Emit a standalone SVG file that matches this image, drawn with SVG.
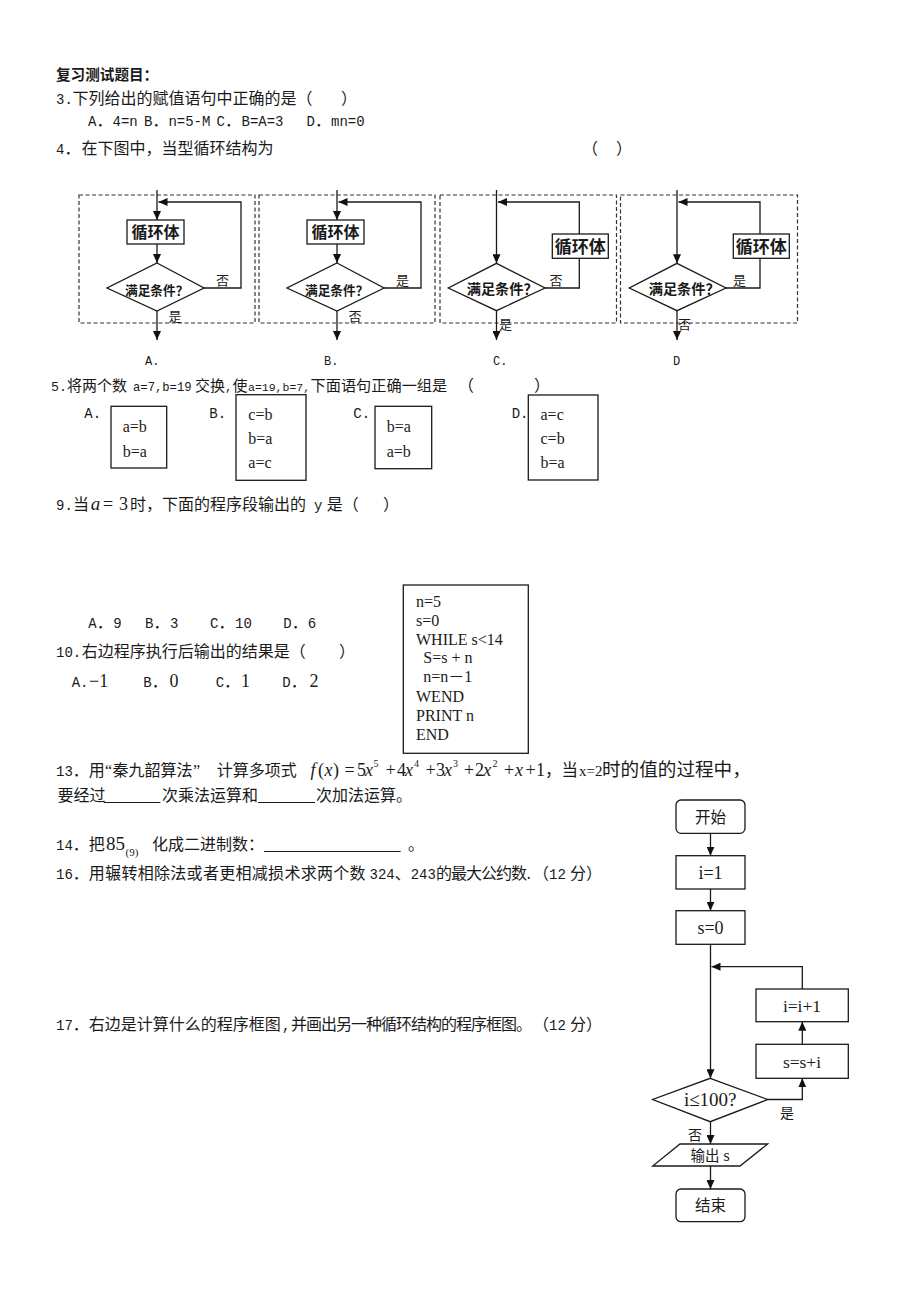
<svg xmlns="http://www.w3.org/2000/svg" width="920" height="1302" viewBox="0 0 920 1302">
<defs>
<marker id="ah" markerUnits="userSpaceOnUse" markerWidth="9" markerHeight="8" refX="9" refY="4" orient="auto"><path d="M0,0 L9,4 L0,8 z" fill="#111"/></marker>
<style>
.cn{font-family:"Noto Sans CJK SC",sans-serif;font-size:16px;fill:#1a1a1a}
.m{font-family:"Liberation Mono","Noto Sans CJK SC",monospace;font-size:14px;fill:#1a1a1a}
.sf{font-family:"Liberation Serif","Noto Sans CJK SC",serif;font-size:16px;fill:#1a1a1a}
.it{font-style:italic}
.ln{fill:none;stroke:#1a1a1a;stroke-width:1.3}
.dash{fill:none;stroke:#333;stroke-width:1.2;stroke-dasharray:4 2.5}
.box{fill:#fff;stroke:#1a1a1a;stroke-width:1.3}
.lbl{font-family:"Noto Sans CJK SC",sans-serif;font-size:13px;fill:#1a1a1a}
.bd{font-family:"Noto Sans CJK SC",sans-serif;font-weight:bold;fill:#1a1a1a}
.mid{text-anchor:middle}
</style>
</defs>
<rect width="920" height="1302" fill="#fff"/>

<g id="q3">
<text x="56" y="80" class="bd" style="font-size:14.6px">复习测试题目：</text>
<text y="104"><tspan class="m" x="56">3.</tspan><tspan class="cn" x="72.5">下列给出的赋值语句中正确的是（</tspan><tspan class="cn" x="341">）</tspan></text>
<text y="126"><tspan class="m" x="88">A</tspan><tspan class="cn" x="96.4">．</tspan><tspan class="m" x="112.5">4=n</tspan><tspan class="m" x="144">B</tspan><tspan class="cn" x="152.4">．</tspan><tspan class="m" x="168.4">n=5-M</tspan><tspan class="m" x="216.5">C</tspan><tspan class="cn" x="224.9">．</tspan><tspan class="m" x="241.5">B=A=3</tspan><tspan class="m" x="306.5">D</tspan><tspan class="cn" x="314.9">．</tspan><tspan class="m" x="331">mn=0</tspan></text>
</g>

<g id="q4">
<text y="153.5"><tspan class="m" x="56">4</tspan><tspan class="cn" x="64.4">．</tspan><tspan class="cn" x="81.5">在下图中，当型循环结构为</tspan><tspan class="cn" x="582">（</tspan><tspan class="cn" x="616">）</tspan></text>
</g>

<g id="fcA">
<rect class="dash" x="79" y="195" width="176" height="128"/>
<rect class="box" x="127" y="220" width="57" height="24"/>
<text class="bd mid" x="155.5" y="237.5" style="font-size:16px">循环体</text>
<polygon class="box" points="157,263 204,288 157,311 107,288"/>
<text class="bd" x="125" y="294.5" style="font-size:12.7px">满足条件？</text>
<text class="lbl mid" x="222.5" y="284.5">否</text>
<text class="lbl mid" x="175" y="321">是</text>
<text class="m" x="145" y="365" style="font-size:12px">A.</text>
</g>
<g id="fcB">
<rect class="dash" x="259" y="195" width="176" height="128"/>
<rect class="box" x="307" y="220" width="57" height="24"/>
<text class="bd mid" x="335.5" y="237.5" style="font-size:16px">循环体</text>
<polygon class="box" points="337,263 384,288 337,311 287,288"/>
<text class="bd" x="305" y="294.5" style="font-size:12.7px">满足条件？</text>
<text class="lbl mid" x="402.5" y="284.5">是</text>
<text class="lbl mid" x="355" y="321">否</text>
<text class="m" x="324" y="365" style="font-size:12px">B.</text>
</g>
<g id="fcC">
<rect class="dash" x="440" y="195" width="176.5" height="128"/>
<rect class="box" x="552.3" y="234" width="56" height="24.3"/>
<text class="bd mid" x="580.3" y="252.5" style="font-size:17px">循环体</text>
<polygon class="box" points="496.5,263.3 545,288 496.5,310.7 448.3,288"/>
<text class="bd" x="466.7" y="294" style="font-size:14.2px">满足条件？</text>
<text class="lbl mid" x="556" y="285">否</text>
<text class="lbl" x="499" y="329">是</text>
<text class="m" x="493" y="365" style="font-size:12px">C.</text>
</g>
<g id="fcD">
<rect class="dash" x="620.5" y="195" width="177" height="128"/>
<rect class="box" x="733.3" y="234" width="56" height="24.3"/>
<text class="bd mid" x="761.3" y="252.5" style="font-size:17px">循环体</text>
<polygon class="box" points="677,263.3 726,288 677,310.7 629.3,288"/>
<text class="bd" x="648.7" y="294" style="font-size:14.2px">满足条件？</text>
<text class="lbl" x="733" y="285">是</text>
<text class="lbl" x="678" y="329">否</text>
<text class="m" x="673" y="365" style="font-size:12px">D</text>
</g>

<g id="q5">
<text y="391"><tspan class="m" x="51" style="font-size:13.3px">5.</tspan><tspan class="cn" x="67" style="font-size:15px">将两个数</tspan><tspan class="m" x="133" style="font-size:12.2px">a=7,b=19</tspan><tspan class="cn" x="195" style="font-size:15px">交换</tspan><tspan class="m" x="225" style="font-size:12.2px">,</tspan><tspan class="cn" x="232.5" style="font-size:15px">使</tspan><tspan class="m" x="248" style="font-size:11.5px">a=19,b=7,</tspan><tspan class="cn" x="310.5" style="font-size:15.2px">下面语句正确一组是</tspan><tspan class="cn" x="458">（</tspan><tspan class="cn" x="534">）</tspan></text>
<text class="m" x="84.3" y="418">A.</text>
<rect class="box" x="111" y="406.3" width="55.7" height="61.7"/>
<text class="sf" x="122.7" y="432">a=b</text>
<text class="sf" x="122.7" y="457">b=a</text>
<text class="m" x="209.3" y="418">B.</text>
<rect class="box" x="236" y="394.7" width="70" height="85.6"/>
<text class="sf" x="248.3" y="420">c=b</text>
<text class="sf" x="248.3" y="444">b=a</text>
<text class="sf" x="248.3" y="468">a=c</text>
<text class="m" x="353.3" y="418">C.</text>
<rect class="box" x="375" y="406.3" width="56.7" height="62.4"/>
<text class="sf" x="386.7" y="432">b=a</text>
<text class="sf" x="386.7" y="457">a=b</text>
<text class="m" x="511.7" y="418">D.</text>
<rect class="box" x="528.3" y="395" width="69.7" height="85"/>
<text class="sf" x="540.5" y="420">a=c</text>
<text class="sf" x="540.5" y="444">c=b</text>
<text class="sf" x="540.5" y="468">b=a</text>
</g>

<g id="q9">
<text y="510"><tspan class="m" x="56">9.</tspan><tspan class="cn" x="73">当</tspan><tspan class="sf it" x="90.7" style="font-size:19px">a</tspan><tspan class="sf" x="103" style="font-size:18px">=</tspan><tspan class="sf" x="119" style="font-size:18px">3</tspan><tspan class="cn" x="130">时，下面的程序段输出的</tspan><tspan class="m" x="314">y</tspan><tspan class="cn" x="326.7">是（</tspan><tspan class="cn" x="383">）</tspan></text>
<text y="628"><tspan class="m" x="88.3">A</tspan><tspan class="cn" x="96.7">．</tspan><tspan class="m" x="113.3">9</tspan><tspan class="m" x="145">B</tspan><tspan class="cn" x="153.4">．</tspan><tspan class="m" x="170">3</tspan><tspan class="m" x="210">C</tspan><tspan class="cn" x="218.4">．</tspan><tspan class="m" x="235">10</tspan><tspan class="m" x="283.3">D</tspan><tspan class="cn" x="291.7">．</tspan><tspan class="m" x="307.7">6</tspan></text>
</g>

<g id="q10">
<text y="657"><tspan class="m" x="56">10.</tspan><tspan class="cn" x="81.7">右边程序执行后输出的结果是（</tspan><tspan class="cn" x="339">）</tspan></text>
<text y="687"><tspan class="m" x="71.7">A.</tspan><tspan class="sf" x="89" style="font-size:18px">−1</tspan><tspan class="m" x="143.3">B</tspan><tspan class="cn" x="151.7">．</tspan><tspan class="sf" x="169.5" style="font-size:18px">0</tspan><tspan class="m" x="215.7">C</tspan><tspan class="cn" x="224.1">．</tspan><tspan class="sf" x="241" style="font-size:18px">1</tspan><tspan class="m" x="282.3">D</tspan><tspan class="cn" x="290.7">．</tspan><tspan class="sf" x="309.5" style="font-size:18px">2</tspan></text>
</g>

<g id="code">
<rect class="box" x="403.3" y="585" width="125" height="168.3"/>
<text class="sf" x="416" y="607">n=5</text>
<text class="sf" x="416" y="626">s=0</text>
<text class="sf" x="416" y="644.5">WHILE s&lt;14</text>
<text class="sf" x="423.3" y="663">S=s + n</text>
<text class="sf" x="423.3" y="682">n=n－1</text>
<text class="sf" x="416" y="702">WEND</text>
<text class="sf" x="416" y="721">PRINT n</text>
<text class="sf" x="416" y="740">END</text>
</g>

<g id="q13">
<text y="776"><tspan class="m" x="56">13</tspan><tspan class="cn" x="72.8">．</tspan><tspan class="cn" x="88.8">用</tspan><tspan class="sf" x="105">“</tspan><tspan class="cn" x="112.5">秦九韶算法</tspan><tspan class="sf" x="193">”</tspan><tspan class="cn" x="216.7">计算多项式</tspan></text>
<text class="sf" y="776" style="font-size:18px"><tspan class="it" x="310.5">f</tspan><tspan x="318">(</tspan><tspan class="it" x="324.5">x</tspan><tspan x="333">)</tspan><tspan x="344.5">=</tspan><tspan x="357">5</tspan><tspan class="it" x="365">x</tspan><tspan x="373.5" y="766.5" style="font-size:10px">5</tspan><tspan x="385.5" y="776">+</tspan><tspan x="397">4</tspan><tspan class="it" x="405">x</tspan><tspan x="414" y="766.5" style="font-size:10px">4</tspan><tspan x="425.5" y="776">+</tspan><tspan x="436">3</tspan><tspan class="it" x="444">x</tspan><tspan x="453" y="766.5" style="font-size:10px">3</tspan><tspan x="464" y="776">+</tspan><tspan x="475">2</tspan><tspan class="it" x="483.3">x</tspan><tspan x="492.5" y="766.5" style="font-size:10px">2</tspan><tspan x="504" y="776">+</tspan><tspan class="it" x="515">x</tspan><tspan x="525.5">+</tspan><tspan x="536">1</tspan></text>
<text y="776"><tspan class="cn" x="545" style="font-size:16.5px">，当</tspan><tspan class="sf" x="579" style="font-size:15px">x=2</tspan><tspan class="cn" x="602" style="font-size:18.6px">时的值的过程中，</tspan></text>
<text y="801"><tspan class="cn" x="57.5">要经过</tspan><tspan class="cn" x="162">次乘法运算和</tspan><tspan class="cn" x="316">次加法运算。</tspan></text>
<line class="ln" x1="103.7" y1="802.5" x2="160.4" y2="802.5" style="stroke-width:1"/>
<line class="ln" x1="258" y1="802.5" x2="315" y2="802.5" style="stroke-width:1"/>
</g>

<g id="q14">
<text y="850"><tspan class="m" x="56">14</tspan><tspan class="cn" x="72.8">．</tspan><tspan class="cn" x="88.8">把</tspan><tspan class="sf" x="106" style="font-size:19px">85</tspan><tspan class="sf" x="125.5" y="856" style="font-size:11px">(9)</tspan><tspan class="cn" x="152" y="850">化成二进制数：</tspan><tspan class="cn" x="408">。</tspan></text>
<line class="ln" x1="264" y1="851.5" x2="400.7" y2="851.5" style="stroke-width:1"/>
</g>

<g id="q16">
<text y="879"><tspan class="m" x="56">16</tspan><tspan class="cn" x="72.8">．</tspan><tspan class="cn" x="88.8" letter-spacing="0.3">用辗转相除法或者更相减损术求两个数</tspan><tspan class="m" x="369.5">324</tspan><tspan class="cn" x="394.7">、</tspan><tspan class="m" x="410.7">243</tspan><tspan class="cn" x="436" letter-spacing="-1">的最大公约数</tspan><tspan class="m" x="524.5">.</tspan><tspan class="cn" x="533">（</tspan><tspan class="m" x="549">12</tspan><tspan class="cn" x="570">分</tspan><tspan class="cn" x="586">）</tspan></text>
</g>

<g id="q17">
<text y="1030"><tspan class="m" x="56">17</tspan><tspan class="cn" x="72.8">．</tspan><tspan class="cn" x="88.8">右边是计算什么的程序框图</tspan><tspan class="m" x="282">,</tspan><tspan class="cn" x="291" letter-spacing="-1">并画出另一种循环结构的程序框图。</tspan><tspan class="cn" x="533">（</tspan><tspan class="m" x="549">12</tspan><tspan class="cn" x="570">分</tspan><tspan class="cn" x="586">）</tspan></text>
</g>

<g id="start">
<rect class="box" x="676" y="800" width="69" height="33.3" rx="5"/>
<text class="cn mid" x="710.5" y="822.5" style="font-size:15.5px">开始</text>
</g>
<g id="init-i">
<rect class="box" x="676" y="855.7" width="69" height="33.3"/>
<text class="sf mid" x="710.5" y="878.5" style="font-size:18px">i=1</text>
</g>
<g id="init-s">
<rect class="box" x="676" y="910.7" width="69" height="33.6"/>
<text class="sf mid" x="710.5" y="933.5" style="font-size:18px">s=0</text>
</g>
<g id="inc-i">
<rect class="box" x="756" y="989" width="92.3" height="32.7"/>
<text class="sf mid" x="802" y="1011.5" style="font-size:17.5px">i=i+1</text>
</g>
<g id="add-s">
<rect class="box" x="756" y="1044.3" width="92.3" height="34"/>
<text class="sf mid" x="802" y="1067.5" style="font-size:17.5px">s=s+i</text>
</g>
<g id="cond">
<polygon class="box" points="710.2,1078.3 767.7,1099.5 710.2,1121.7 652.7,1099.5"/>
<text class="sf mid" x="710.2" y="1106" style="font-size:19px">i≤100?</text>
</g>
<g id="output">
<polygon class="box" points="680,1144 767.7,1144 740,1166 652.7,1166"/>
<text x="710.2" y="1160.5" class="mid"><tspan class="cn" style="font-size:14.5px">输出</tspan><tspan class="sf"> s</tspan></text>
</g>
<g id="end">
<rect class="box" x="676" y="1189" width="69" height="32.7" rx="5"/>
<text class="cn mid" x="710.5" y="1211" style="font-size:15.5px">结束</text>
</g>

<g id="connectors">
<line class="ln" x1="157" y1="190" x2="157" y2="220" marker-end="url(#ah)"/>
<line class="ln" x1="157" y1="244" x2="157" y2="263" marker-end="url(#ah)"/>
<polyline class="ln" points="204,288 241,288 241,202 158.5,202" marker-end="url(#ah)"/>
<line class="ln" x1="157" y1="311" x2="157" y2="340" marker-end="url(#ah)"/>

<line class="ln" x1="337" y1="190" x2="337" y2="220" marker-end="url(#ah)"/>
<line class="ln" x1="337" y1="244" x2="337" y2="263" marker-end="url(#ah)"/>
<polyline class="ln" points="384,288 421,288 421,202 338.5,202" marker-end="url(#ah)"/>
<line class="ln" x1="337" y1="311" x2="337" y2="340" marker-end="url(#ah)"/>

<line class="ln" x1="496.5" y1="190" x2="496.5" y2="263.3" marker-end="url(#ah)"/>
<polyline class="ln" points="545,288 579.3,288 579.3,258.3"/>
<polyline class="ln" points="579.3,234 579.3,202 498,202" marker-end="url(#ah)"/>
<line class="ln" x1="496.5" y1="310.7" x2="496.5" y2="340" marker-end="url(#ah)"/>

<line class="ln" x1="677" y1="190" x2="677" y2="263.3" marker-end="url(#ah)"/>
<polyline class="ln" points="726,288 760,288 760,258.3"/>
<polyline class="ln" points="760,234 760,202 678.5,202" marker-end="url(#ah)"/>
<line class="ln" x1="677" y1="310.7" x2="677" y2="340" marker-end="url(#ah)"/>

<line class="ln" x1="710.5" y1="833.3" x2="710.5" y2="855.7" marker-end="url(#ah)"/>
<line class="ln" x1="710.5" y1="889" x2="710.5" y2="910.7" marker-end="url(#ah)"/>
<line class="ln" x1="710.5" y1="944.3" x2="710.5" y2="1078.3" marker-end="url(#ah)"/>
<polyline class="ln" points="802.3,989 802.3,966.7 711.5,966.7" marker-end="url(#ah)"/>
<line class="ln" x1="802.3" y1="1044.3" x2="802.3" y2="1021.7" marker-end="url(#ah)"/>
<polyline class="ln" points="767.7,1099.5 802.3,1099.5 802.3,1078.3" marker-end="url(#ah)"/>
<line class="ln" x1="710.5" y1="1121.7" x2="710.5" y2="1144" marker-end="url(#ah)"/>
<line class="ln" x1="710.5" y1="1166" x2="710.5" y2="1189" marker-end="url(#ah)"/>
<text class="lbl" x="780" y="1118" style="font-size:14px">是</text>
<text class="lbl" x="688" y="1140" style="font-size:14px">否</text>
</g>
</svg>
